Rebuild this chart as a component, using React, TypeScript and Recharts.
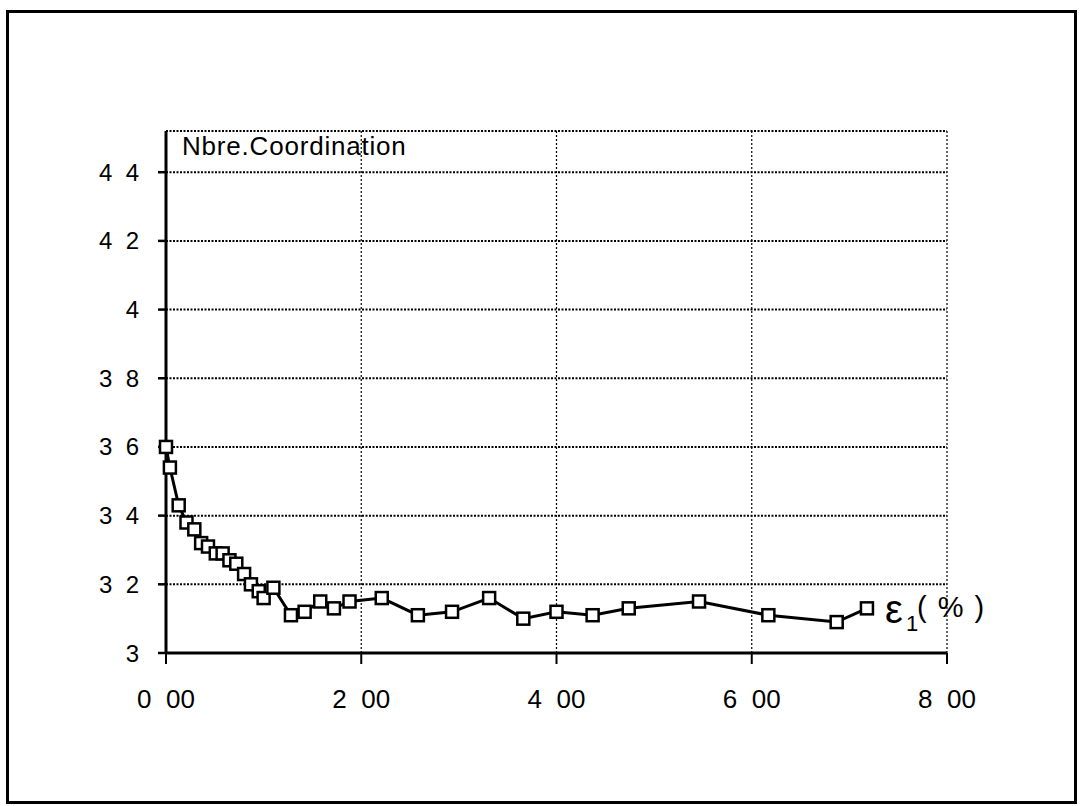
import { CartesianGrid, LabelList, Line, LineChart, XAxis, YAxis } from "recharts";

// values
const strainPct = [
  0, 0.04, 0.13, 0.21, 0.29, 0.36, 0.43, 0.51, 0.58, 0.65, 0.72, 0.8, 0.87,
  0.95, 1.0, 1.1, 1.28, 1.42, 1.58, 1.72, 1.88, 2.21, 2.58, 2.93, 3.31, 3.66,
  4.0, 4.37, 4.74, 5.46, 6.17, 6.87, 7.18,
];
const coordination = [
  3.6, 3.54, 3.43, 3.38, 3.36, 3.32, 3.31, 3.29, 3.29, 3.27, 3.26, 3.23, 3.2,
  3.18, 3.16, 3.19, 3.11, 3.12, 3.15, 3.13, 3.15, 3.16, 3.11, 3.12, 3.16, 3.1,
  3.12, 3.11, 3.13, 3.15, 3.11, 3.09, 3.13,
];

const xTicks = [0, 2, 4, 6, 8];
const xTickLabels = ["0\u00a0\u00a000", "2\u00a0\u00a000", "4\u00a0\u00a000", "6\u00a0\u00a000", "8\u00a0\u00a000"];
const yTicks = [3, 3.2, 3.4, 3.6, 3.8, 4, 4.2, 4.4];
const yTickLabels = [
  "3",
  "3\u00a0\u00a02",
  "3\u00a0\u00a04",
  "3\u00a0\u00a06",
  "3\u00a0\u00a08",
  "4",
  "4\u00a0\u00a02",
  "4\u00a0\u00a04",
];
const yTitle = "Nbre.Coordination";

const data = strainPct.map((x, i) => ({ x, y: coordination[i] }));

const FONT = "'Liberation Sans', Arial, Helvetica, sans-serif";

const SquareDot = (props: any) => {
  const { cx, cy, index } = props;
  if (cx == null || cy == null) return null;
  return (
    <rect
      key={`sq-${index}`}
      x={cx - 6}
      y={cy - 6}
      width={12}
      height={12}
      fill="#fff"
      stroke="#000"
      strokeWidth={2.5}
    />
  );
};

// "ε1( % )" written just right of the last point
const EndLabel = (props: any) => {
  const { index } = props;
  if (index !== data.length - 1) return null;
  const x = props.x ?? props.viewBox?.x;
  const y = props.y ?? props.viewBox?.y;
  return (
    <g fill="#000" fontFamily={FONT}>
      <text x={x + 18} y={y + 15} fontSize={40}>
        ε
      </text>
      <text x={x + 39} y={y + 23} fontSize={22}>
        1
      </text>
      <text x={x + 50} y={y + 9} fontSize={29} letterSpacing={1.5}>
        ( % )
      </text>
    </g>
  );
};

const App = () => {
  return (
    <div style={{ position: "absolute", left: 0, top: 0, width: 1081, height: 806, background: "#fff" }}>
      <div
        style={{
          position: "absolute",
          left: 6,
          top: 10,
          width: 1071,
          height: 794,
          border: "3px solid #000",
          boxSizing: "border-box",
        }}
      />
      <div style={{ position: "absolute", left: 0, top: 0 }}>
        <LineChart
          width={1081}
          height={806}
          data={data}
          margin={{ top: 131, right: 134, bottom: 93, left: 86 }}
        >
          <CartesianGrid
            horizontal
            vertical={false}
            stroke="#000"
            strokeWidth={2}
            strokeDasharray="2 1.5"
          />
          <CartesianGrid
            horizontal={false}
            vertical
            stroke="#000"
            strokeWidth={1.2}
            strokeDasharray="2 2"
          />
          <XAxis
            dataKey="x"
            type="number"
            domain={[0, 8]}
            ticks={xTicks}
            height={60}
            tickSize={11}
            tickMargin={26}
            axisLine={{ stroke: "#000", strokeWidth: 3 }}
            tickLine={{ stroke: "#000", strokeWidth: 2 }}
            tick={{ fill: "#000", fontSize: 26, fontFamily: FONT }}
            tickFormatter={(v: number) => xTickLabels[xTicks.indexOf(v)]}
          />
          <YAxis
            dataKey="y"
            type="number"
            domain={[3, 4.52]}
            ticks={yTicks}
            width={80}
            tickSize={8}
            tickMargin={19}
            axisLine={{ stroke: "#000", strokeWidth: 3 }}
            tickLine={{ stroke: "#000", strokeWidth: 2.5 }}
            tick={{ fill: "#000", fontSize: 24, fontFamily: FONT }}
            tickFormatter={(v: number) => yTickLabels[yTicks.indexOf(v)]}
            label={({ viewBox }: any) => (
              <text
                x={viewBox.x + viewBox.width + 16}
                y={viewBox.y + 24}
                fontSize={26}
                letterSpacing={0.8}
                fontFamily={FONT}
                fill="#000"
              >
                {yTitle}
              </text>
            )}
          />
          <Line
            type="linear"
            dataKey="y"
            stroke="#000"
            strokeWidth={3}
            dot={SquareDot}
            activeDot={false}
            isAnimationActive={false}
          >
            <LabelList dataKey="y" content={EndLabel} />
          </Line>
        </LineChart>
      </div>
    </div>
  );
};

export default App;
